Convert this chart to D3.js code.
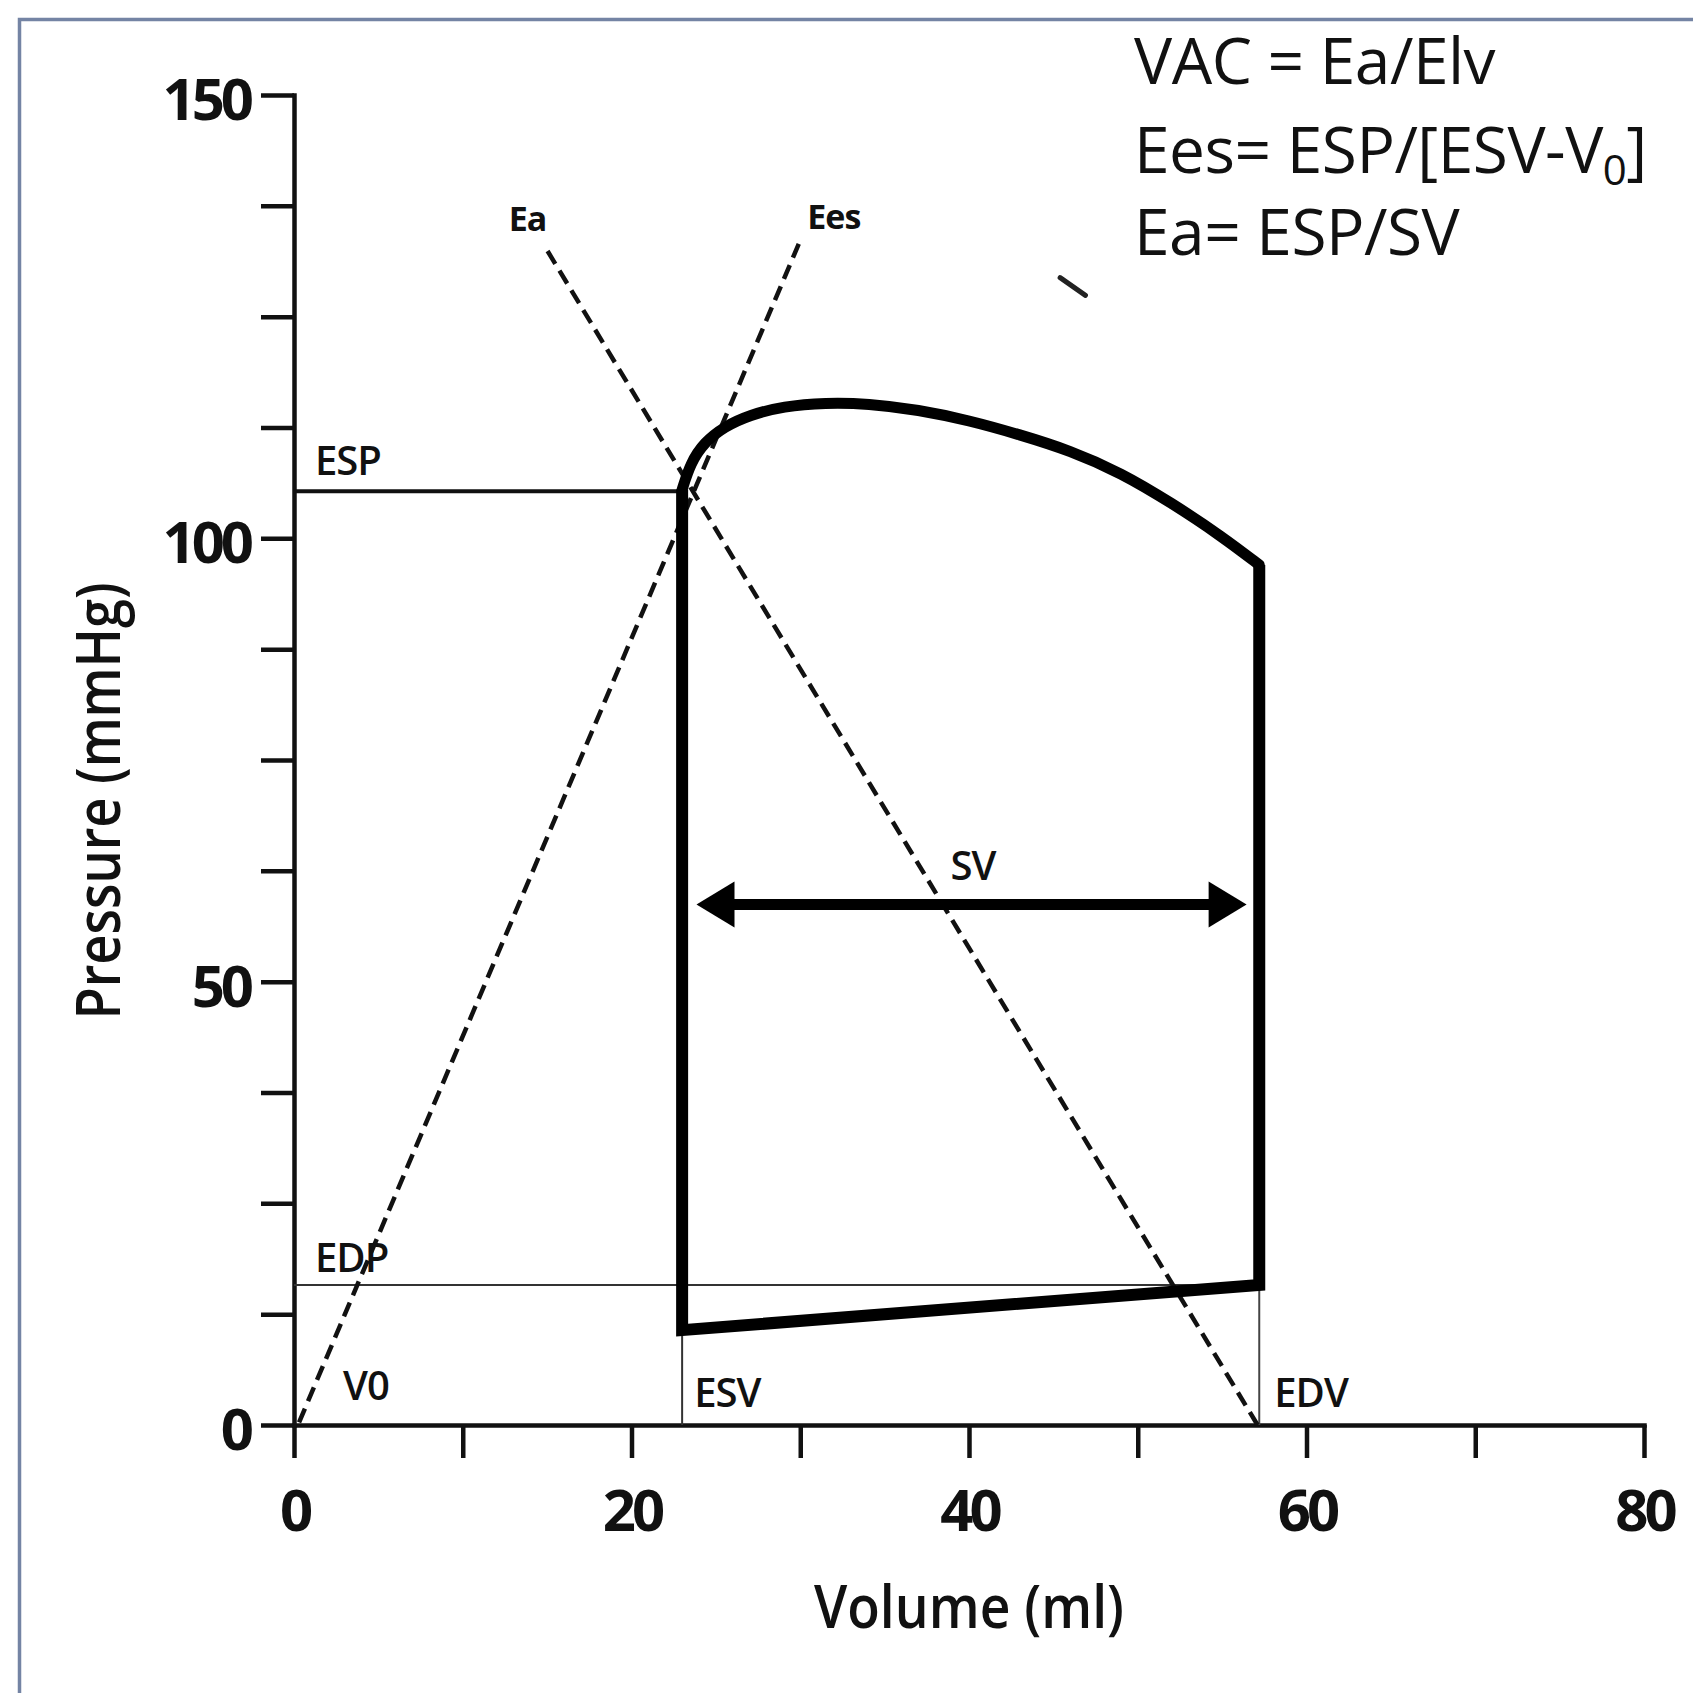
<!DOCTYPE html>
<html>
<head>
<meta charset="utf-8">
<script src="https://cdn.jsdelivr.net/npm/d3@7"></script>
<style>
  body { margin: 0; background: #fff; }
  svg { display: block; }
  text { font-family: "Open Sans", "DejaVu Sans", sans-serif; fill: #111; }
  .axis path, .axis line { stroke: #111; stroke-width: 4.5; }
  .axis text { font-size: 58px; font-weight: 700; letter-spacing: -4px; }
  .lbl { font-size: 40px; font-weight: 600; letter-spacing: -1px; }
  .lbl-small { font-size: 34px; font-weight: 700; letter-spacing: -1px; }
  .formula { font-size: 64px; font-weight: 400; letter-spacing: -0.5px; }
</style>
</head>
<body>
<svg id="chart" width="1693" height="1693"></svg>
<script>
// axis ticks
var volumeTicks = [0, 10, 20, 30, 40, 50, 60, 70, 80];
var volumeLabels = [0, 20, 40, 60, 80];
var pressureTicks = [0, 12.5, 25, 37.5, 50, 62.5, 75, 87.5, 100, 112.5, 125, 137.5, 150];
var pressureLabels = [0, 50, 100, 150];

// key volumes / pressures (ml, mmHg)
var ESV = 23.0;
var EDV = 57.2;
var ESP = 105.3;
var EDP = 15.8;

// pressure-volume loop: straight sides, then ejection curve from EDV back to ESV
var loopSides = [[23.0, 105.5], [23.0, 10.7], [57.2, 15.8], [57.2, 97.0]];
var ejectionCurve = [[57.2, 97.0], [55.0, 100.2], [52.0, 104.0], [49.0, 107.4], [46.0, 109.9],
    [43.0, 111.7], [40.0, 113.3], [37.0, 114.5], [34.0, 115.2], [31.5, 115.3], [29.0, 114.9],
    [27.0, 113.9], [25.5, 112.6], [24.3, 110.8], [23.5, 108.5], [23.0, 105.5]];

// elastance lines
var eesLine = [[0.3, 0.3], [30.0, 133.6]];
var eaLine = [[57.1, 0], [14.9, 132.8]];

// stroke volume arrow
var svArrow = [[23.85, 58.7], [56.45, 58.7]];
var strayMark = [[45.4, 129.4], [46.9, 127.4]];

var svg = d3.select("#chart");

svg.append("rect").attr("width", 1693).attr("height", 1693).attr("fill", "#fff");

// frame of the original slide
svg.append("path")
    .attr("d", "M19.5,1693 V19.5 H1693")
    .attr("fill", "none")
    .attr("stroke", "#7484a4")
    .attr("stroke-width", 3.5);

var x = d3.scaleLinear().domain([0, 80]).range([294, 1644]);
var y = d3.scaleLinear().domain([0, 150]).range([1425, 95]);

var line = d3.line().x(function(d) { return x(d[0]); }).y(function(d) { return y(d[1]); });

// axes
var xAxis = d3.axisBottom(x)
    .tickValues(volumeTicks)
    .tickSize(33)
    .tickSizeOuter(0)
    .tickPadding(32)
    .tickFormat(function(d) { return volumeLabels.indexOf(d) >= 0 ? d : ""; });

var yAxis = d3.axisLeft(y)
    .tickValues(pressureTicks)
    .tickSize(33)
    .tickSizeOuter(0)
    .tickPadding(11)
    .tickFormat(function(d) { return pressureLabels.indexOf(d) >= 0 ? d : ""; });

var gx = svg.append("g").attr("class", "axis")
    .attr("transform", "translate(0," + y(0) + ")")
    .call(xAxis);
gx.selectAll("text").style("fill", "#111");

var gy = svg.append("g").attr("class", "axis")
    .attr("transform", "translate(" + x(0) + ",0)")
    .call(yAxis);
gy.selectAll("text").attr("dy", "0.42em").style("fill", "#111");

svg.selectAll(".axis .domain").attr("stroke-linecap", "square");

// axis titles
svg.append("text")
    .attr("x", x(40))
    .attr("y", 1628)
    .attr("text-anchor", "middle")
    .attr("textLength", 310)
    .attr("lengthAdjust", "spacingAndGlyphs")
    .style("font-size", "60px")
    .style("font-weight", 600)
    .text("Volume (ml)");

svg.append("text")
    .attr("transform", "translate(120," + 801 + ") rotate(-90)")
    .attr("text-anchor", "middle")
    .attr("textLength", 437)
    .attr("lengthAdjust", "spacingAndGlyphs")
    .style("font-size", "62px")
    .style("font-weight", 600)
    .text("Pressure (mmHg)");

// reference lines
svg.append("path")
    .attr("d", line([[0, ESP], [ESV, ESP]]))
    .attr("stroke", "#111").attr("stroke-width", 4).attr("fill", "none");

svg.append("path")
    .attr("d", line([[0, EDP], [EDV, EDP]]))
    .attr("stroke", "#333").attr("stroke-width", 2).attr("fill", "none");

svg.append("path")
    .attr("d", line([[ESV, 0], [ESV, loopSides[1][1]]]))
    .attr("stroke", "#333").attr("stroke-width", 2).attr("fill", "none");

svg.append("path")
    .attr("d", line([[EDV, 0], [EDV, EDP]]))
    .attr("stroke", "#444").attr("stroke-width", 2).attr("fill", "none");

// dashed elastance lines
[eesLine, eaLine].forEach(function(d) {
    svg.append("path")
        .attr("d", line(d))
        .attr("stroke", "#111")
        .attr("stroke-width", 4.5)
        .attr("stroke-dasharray", "15,8")
        .attr("fill", "none");
});

// loop
svg.append("path")
    .attr("d", line(loopSides))
    .attr("stroke", "#000").attr("stroke-width", 12)
    .attr("stroke-linejoin", "miter").attr("fill", "none");

svg.append("path")
    .attr("d", line.curve(d3.curveBasis)(ejectionCurve))
    .attr("stroke", "#000").attr("stroke-width", 11)
    .attr("stroke-linecap", "round").attr("fill", "none");
line.curve(d3.curveLinear);

// SV arrow
var ax1 = x(svArrow[0][0]), ax2 = x(svArrow[1][0]), ay = y(svArrow[0][1]);
var headL = 38, headW = 23;
svg.append("line")
    .attr("x1", ax1 + headL - 4).attr("x2", ax2 - headL + 4)
    .attr("y1", ay).attr("y2", ay)
    .attr("stroke", "#000").attr("stroke-width", 11);
svg.append("path")
    .attr("d", "M" + ax1 + "," + ay + " L" + (ax1 + headL) + "," + (ay - headW) +
        " L" + (ax1 + headL) + "," + (ay + headW) + "Z")
    .attr("fill", "#000");
svg.append("path")
    .attr("d", "M" + ax2 + "," + ay + " L" + (ax2 - headL) + "," + (ay - headW) +
        " L" + (ax2 - headL) + "," + (ay + headW) + "Z")
    .attr("fill", "#000");

svg.append("path")
    .attr("d", line(strayMark))
    .attr("stroke", "#222").attr("stroke-width", 5).attr("stroke-linecap", "round");

// labels
function label(txt, px, py, cls, anchor) {
    svg.append("text")
        .attr("class", cls)
        .attr("x", px).attr("y", py)
        .attr("text-anchor", anchor || "start")
        .text(txt);
}

label("ESP", x(0) + 21, y(ESP) - 16, "lbl");
label("EDP", x(0) + 21, y(EDP) - 13, "lbl");
label("V0", x(0) + 49, y(0) - 25, "lbl");
label("ESV", x(ESV) + 12, y(0) - 18, "lbl");
label("EDV", x(EDV) + 15, y(0) - 18, "lbl");
label("SV", x(38.9), y(svArrow[0][1]) - 25, "lbl");
label("Ea", x(eaLine[1][0]) - 18, y(eaLine[1][1]) - 17, "lbl-small", "middle");
label("Ees", x(eesLine[1][0]) + 7, y(eesLine[1][1]) - 11, "lbl-small");

// formulas
var f = svg.append("g").attr("class", "formulas");
f.append("text").attr("class", "formula").attr("x", 1134).attr("y", 84).text("VAC = Ea/Elv");
var f2 = f.append("text").attr("class", "formula").attr("x", 1134).attr("y", 173);
f2.append("tspan").text("Ees= ESP/[ESV-V");
f2.append("tspan").attr("dy", 12).style("font-size", "42px").text("0");
f2.append("tspan").attr("dy", -12).text("]");
f.append("text").attr("class", "formula").attr("x", 1134).attr("y", 255).text("Ea= ESP/SV");
</script>
</body>
</html>
